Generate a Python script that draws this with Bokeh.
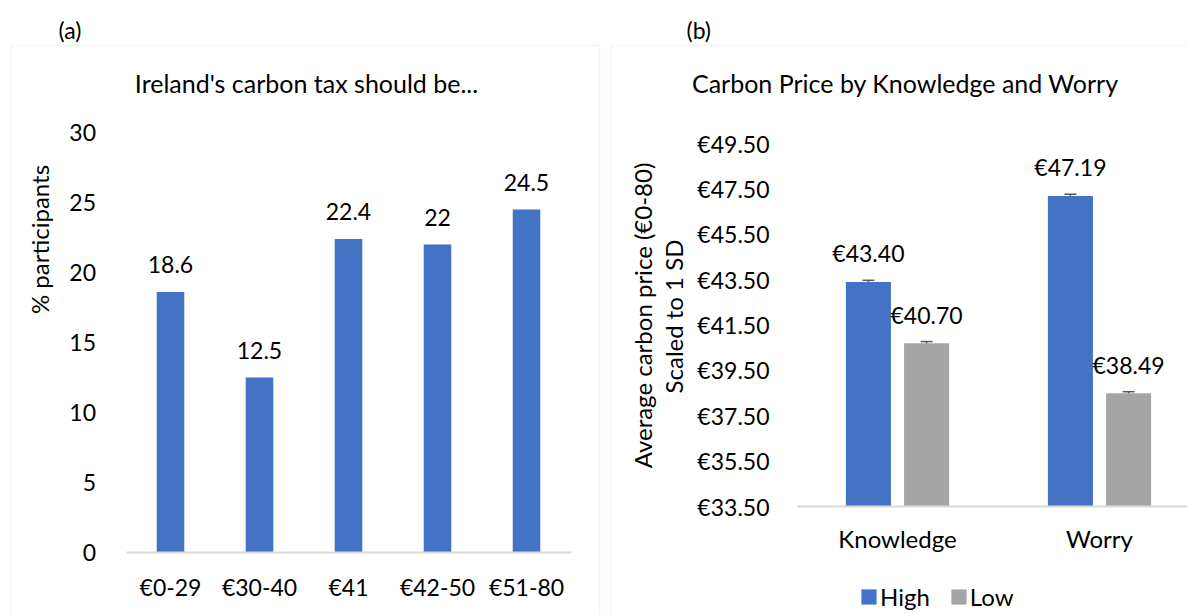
import math
from bokeh.plotting import figure
from bokeh.models import (ColumnDataSource, Range1d, FixedTicker, PrintfTickFormatter,
                          LabelSet, Label, Title, Whisker, Legend, LegendItem,
                          BoxAnnotation)
from bokeh.core.properties import value
from bokeh.layouts import row
from bokeh.embed import file_html
from bokeh.resources import INLINE

FONT = "Lato"
TXT = "#000000"
BLUE = "#4472C4"
GRAY = "#A5A5A5"
AXIS = "#D9D9D9"

# ---------------- data ----------------
tax_categories = ["€0-29", "€30-40", "€41", "€42-50", "€51-80"]
tax_pct = [18.6, 12.5, 22.4, 22.0, 24.5]
tax_pct_labels = ["18.6", "12.5", "22.4", "22", "24.5"]
pct_ticks = [0, 5, 10, 15, 20, 25, 30]

groups = ["Knowledge", "Worry"]
series_names = ["High", "Low"]
high_price = [43.40, 47.19]
low_price = [40.70, 38.49]
high_err = [0.07, 0.07]
low_err = [0.07, 0.07]
price_ticks = [33.5, 35.5, 37.5, 39.5, 41.5, 43.5, 45.5, 47.5, 49.5]

# ---------------- layout geometry (pixels) ----------------
W_A, W_B, H = 605, 582, 614
TOP = 44                                  # top of the bordered chart areas
# panel (a): first category centre, px per category, zero line, px per unit
A_CX, A_DX, A_Y0, A_DY = 170.0, 89.0, 552.0, 14.0
# panel (b) (canvas starts at x=605): first group centre, px per group, base line, px per unit
B_CX, B_DX, B_Y0, B_DY = 292.0, 202.0, 506.0, (506.0 - 143.0) / 16.0


def ax_(px):
    return (px - A_CX) / A_DX


def ay_(py):
    return (A_Y0 - py) / A_DY


def bx_(px):
    return (px - B_CX) / B_DX


def by_(py):
    return price_ticks[0] + (B_Y0 - py) / B_DY


def base_style(p):
    p.xgrid.visible = False
    p.ygrid.visible = False
    p.outline_line_color = None
    for ax in (p.xaxis[0], p.yaxis[0]):
        ax.major_tick_line_color = None
        ax.minor_tick_line_color = None
        ax.major_label_text_font = FONT
        ax.major_label_text_color = TXT
    p.xaxis.axis_line_color = AXIS
    p.xaxis.axis_line_width = 2
    p.yaxis.axis_line_color = None


def border(p, left, right, top, bottom):
    p.add_layout(BoxAnnotation(left=left, right=right, top=top, bottom=bottom,
                               fill_color=None, fill_alpha=0,
                               line_color=AXIS, line_width=1.5, level="underlay"))


def text_label(p, x, y, text, size, angle=0.0, baseline="middle"):
    p.add_layout(Label(x=x, y=y, text=text, angle=angle, text_align="center",
                       text_baseline=baseline, text_font=FONT, text_font_size=size,
                       text_color=TXT))


def panel_tag(p, text, offset):
    p.add_layout(Title(text=text, align="left", offset=offset, standoff=2,
                       text_font=FONT, text_font_size="23px", text_font_style="normal",
                       text_color=TXT), "above")


# ---------------- panel (a) ----------------
pa = figure(width=W_A, height=H, title=None,
            x_range=Range1d(ax_(10), ax_(600)),
            y_range=Range1d(ay_(H), ay_(TOP)),
            output_backend="svg", toolbar_location=None,
            min_border_left=10, min_border_right=W_A - 600,
            min_border_top=TOP, min_border_bottom=0)
border(pa, ax_(10.75), ax_(599.25), ay_(TOP + 0.75), ay_(H + 30))
a_idx = list(range(len(tax_categories)))
src_a = ColumnDataSource(dict(x=a_idx, val=tax_pct, lbl=tax_pct_labels))
pa.vbar(x="x", top="val", width=0.31, source=src_a, fill_color=BLUE, line_color=None)
base_style(pa)
pa.xaxis.fixed_location = 0
pa.xaxis.bounds = (-0.5, len(tax_categories) - 0.5)
pa.xaxis.ticker = FixedTicker(ticks=a_idx)
pa.xaxis.major_label_overrides = {i: c for i, c in zip(a_idx, tax_categories)}
pa.xaxis.major_label_text_font_size = "23px"
pa.xaxis.major_label_standoff = 14
pa.yaxis.fixed_location = -0.5
pa.yaxis.bounds = (pct_ticks[0], pct_ticks[-1])
pa.yaxis.ticker = FixedTicker(ticks=pct_ticks)
pa.yaxis.major_label_text_font_size = "23px"
pa.yaxis.major_label_standoff = 24
pa.add_layout(LabelSet(x="x", y="val", text="lbl", source=src_a,
                       text_align="center", text_baseline="alphabetic", y_offset=19,
                       text_font=value(FONT), text_font_size=value("23px"),
                       text_color=TXT))
panel_tag(pa, "(a)", 48)
text_label(pa, ax_(306), ay_(82), "Ireland's carbon tax should be...", "25px")
text_label(pa, ax_(39), ay_(239), "% participants", "24px", angle=math.pi / 2,
           baseline="alphabetic")

# ---------------- panel (b) ----------------
b_idx = list(range(len(groups)))
high_x = [i - 0.144 for i in b_idx]
low_x = [i + 0.144 for i in b_idx]

pb = figure(width=W_B, height=H, title=None,
            x_range=Range1d(bx_(5), bx_(W_B)),
            y_range=Range1d(by_(H), by_(TOP)),
            output_backend="svg", toolbar_location=None,
            min_border_left=5, min_border_right=0,
            min_border_top=TOP, min_border_bottom=0)
border(pb, bx_(5.75), bx_(W_B + 30), by_(TOP + 0.75), by_(H + 30))
src_h = ColumnDataSource(dict(x=high_x, top=high_price,
                              up=[v + e for v, e in zip(high_price, high_err)],
                              lo=[v - e for v, e in zip(high_price, high_err)],
                              lbl=[f"€{v:.2f}" for v in high_price]))
src_l = ColumnDataSource(dict(x=low_x, top=low_price,
                              up=[v + e for v, e in zip(low_price, low_err)],
                              lo=[v - e for v, e in zip(low_price, low_err)],
                              lbl=[f"€{v:.2f}" for v in low_price]))
r_high = pb.vbar(x="x", top="top", bottom=price_ticks[0], width=0.223, source=src_h,
                 fill_color=BLUE, line_color=None)
r_low = pb.vbar(x="x", top="top", bottom=price_ticks[0], width=0.223, source=src_l,
                fill_color=GRAY, line_color=None)
for s in (src_h, src_l):
    w = Whisker(base="x", upper="up", lower="lo", source=s,
                line_color="#595959", line_width=1.5)
    for head in (w.upper_head, w.lower_head):
        head.size = 12
        head.line_color = "#595959"
        head.line_width = 1.5
    pb.add_layout(w)
    pb.add_layout(LabelSet(x="x", y="up", text="lbl", source=s,
                           text_align="center", text_baseline="alphabetic", y_offset=18,
                           text_font=value(FONT), text_font_size=value("23px"),
                           text_color=TXT))
base_style(pb)
pb.xaxis.fixed_location = price_ticks[0]
pb.xaxis.bounds = (bx_(797 - 605), bx_(W_B))
pb.xaxis.ticker = FixedTicker(ticks=b_idx)
pb.xaxis.major_label_overrides = {i: g for i, g in zip(b_idx, groups)}
pb.xaxis.major_label_text_font_size = "24px"
pb.xaxis.major_label_standoff = 11
pb.yaxis.fixed_location = bx_(797 - 605)
pb.yaxis.bounds = (price_ticks[0], price_ticks[-1])
pb.yaxis.ticker = FixedTicker(ticks=price_ticks)
pb.yaxis.formatter = PrintfTickFormatter(format="€%.2f")
pb.yaxis.major_label_text_font_size = "23px"
pb.yaxis.major_label_standoff = 22

legend = Legend(items=[LegendItem(label=series_names[0], renderers=[r_high]),
                       LegendItem(label=series_names[1], renderers=[r_low])],
                orientation="horizontal", location=(249, 3),
                glyph_width=19, glyph_height=19, label_standoff=2, spacing=19,
                padding=0, margin=0, border_line_color=None, background_fill_alpha=0,
                label_text_font=FONT, label_text_font_size="24px", label_text_color=TXT)
pb.add_layout(legend)

panel_tag(pb, "(b)", 76)
text_label(pb, bx_(905 - 605), by_(82), "Carbon Price by Knowledge and Worry", "25px")
text_label(pb, bx_(642 - 605), by_(315), "Average carbon price (€0-80)", "24px",
           angle=math.pi / 2, baseline="alphabetic")
text_label(pb, bx_(673 - 605), by_(316), "Scaled to 1 SD", "24px",
           angle=math.pi / 2, baseline="alphabetic")

layout = row(pa, pb)
open("out.html", "w").write(file_html(layout, INLINE))
